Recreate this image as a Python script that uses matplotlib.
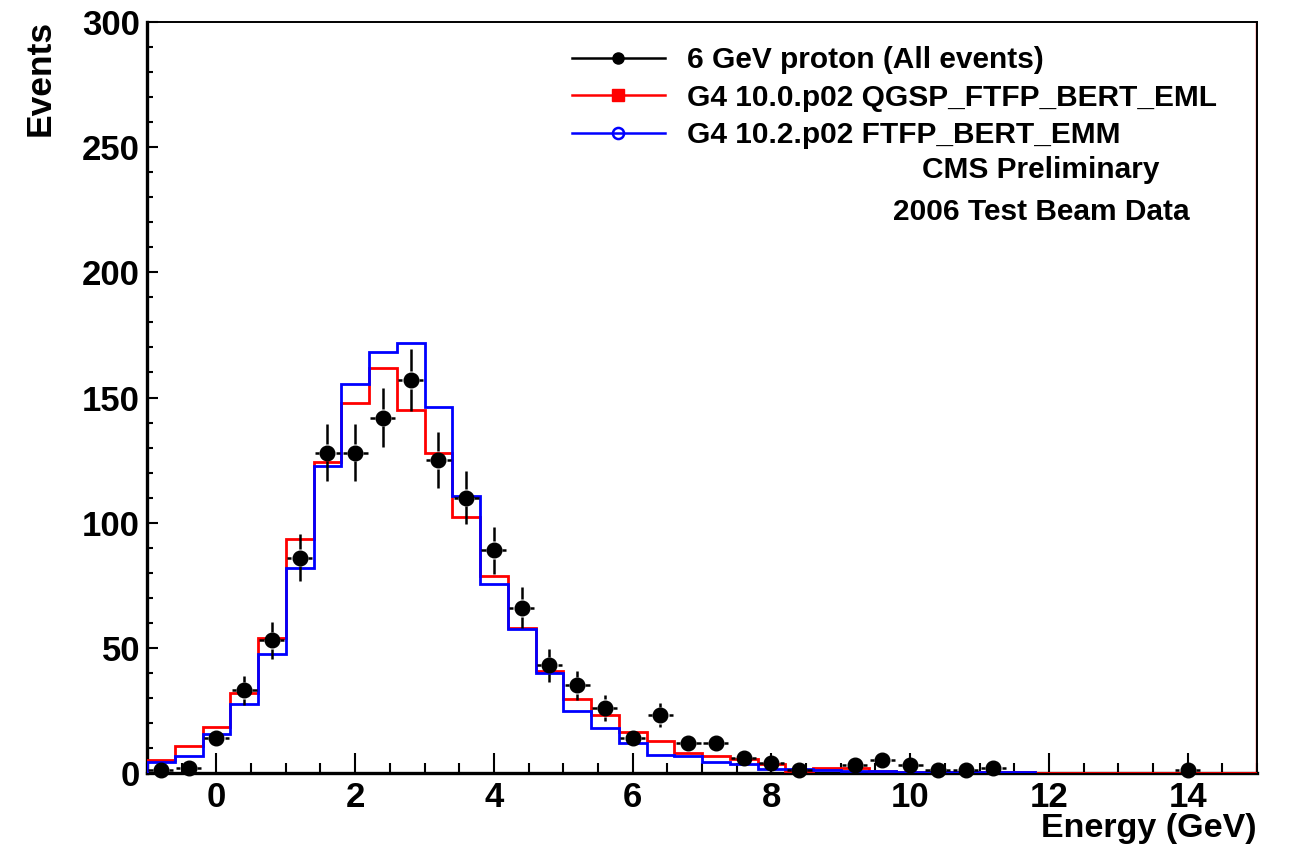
import numpy as np
import matplotlib
matplotlib.use("Agg")
import matplotlib.pyplot as plt
import matplotlib.transforms as mtransforms
from matplotlib.lines import Line2D
from matplotlib.ticker import MultipleLocator

plt.rcParams["font.family"] = ["Liberation Sans", "DejaVu Sans"]
plt.rcParams["font.weight"] = "bold"

# =========================
# Data
# =========================
bin_edges = np.round(np.arange(-1.0, 15.0001, 0.4), 2)          # 40 bins of 0.4 GeV
bin_centers = 0.5 * (bin_edges[:-1] + bin_edges[1:])

data_counts = [1, 2, 14, 33, 53, 86, 128, 128, 142, 157,
               125, 110, 89, 66, 43, 35, 26, 14, 23, 12,
               12, 6, 4, 1, 0, 3, 5, 3, 1, 1,
               2, 0, 0, 0, 0, 0, 0, 1, 0, 0]

g4_100_eml = [5.3, 10.8, 18.5, 31.8, 53.8, 93.4, 124.1, 147.7, 161.7, 145.0,
              128.0, 102.4, 78.8, 58.1, 40.8, 29.4, 23.2, 16.5, 12.8, 8.1,
              6.8, 5.5, 3.4, 0.7, 2.0, 2.0, 0.6, 0.5, 0.5, 0.3,
              0.3, 0.2, 0, 0, 0, 0, 0, 0, 0, 0]

# blue histogram stops at 11.8 GeV
g4_102_emm = [4.5, 6.7, 15.5, 27.4, 47.4, 81.8, 122.8, 155.4, 168.1, 171.9,
              146.1, 110.8, 75.4, 57.4, 39.8, 24.9, 17.9, 12.1, 7.2, 6.8,
              4.5, 3.6, 1.4, 1.4, 1.0, 0.8, 0.8, 0.5, 0.5, 0.5,
              0.5, 0.5]

labels = ["6 GeV proton (All events)",
          "G4 10.0.p02 QGSP_FTFP_BERT_EML",
          "G4 10.2.p02 FTFP_BERT_EMM"]

# =========================
# Figure
# =========================
fig = plt.figure(figsize=(12.9, 8.49), dpi=100)
ax = fig.add_axes([147 / 1290, 1 - 773 / 849, (1257 - 147) / 1290, (773 - 22) / 849])

# histograms
ax.stairs(g4_100_eml, bin_edges, color="red", lw=2.0, baseline=0, zorder=3)
ax.stairs(g4_102_emm, bin_edges[:len(g4_102_emm) + 1], color="blue", lw=2.0,
          baseline=0, zorder=4)

# red edge at the right of the frame
off = mtransforms.offset_copy(ax.transData, fig=fig, x=-1.2, y=0, units="dots")
ax.plot([15, 15], [0, 300], color="red", lw=1.0, transform=off, zorder=2,
        clip_on=False)

# data points with ROOT-like error bars (gap around the marker)
x = bin_centers
y = np.array(data_counts, dtype=float)
err = np.sqrt(y)
show = y > 0
xs, ys, es = x[show], y[show], err[show]

ex, gx = 0.18, 0.12      # half width of x error, gap around marker (GeV)
gy = 3.5                 # vertical gap around marker (events)

ax.hlines(ys, xs - ex, xs - gx, color="black", lw=1.8, zorder=5)
ax.hlines(ys, xs + gx, xs + ex, color="black", lw=1.8, zorder=5)
big = es > gy
ax.vlines(xs[big], ys[big] + gy, ys[big] + es[big], color="black", lw=1.8, zorder=5)
ax.vlines(xs[big], ys[big] - es[big], ys[big] - gy, color="black", lw=1.8, zorder=5)
ax.plot(xs, ys, "o", color="black", ms=10.5, zorder=6, clip_on=False)

# axes
ax.set_xlim(-1, 15)
ax.set_ylim(0, 300)
ax.xaxis.set_major_locator(MultipleLocator(2))
ax.xaxis.set_minor_locator(MultipleLocator(0.5))
ax.yaxis.set_major_locator(MultipleLocator(50))
ax.yaxis.set_minor_locator(MultipleLocator(10))

ax.tick_params(axis="x", which="major", direction="in", length=14.5, width=1.5,
               labelsize=25, pad=6)
ax.tick_params(axis="x", which="minor", direction="in", length=7.5, width=1.5)
ax.tick_params(axis="y", which="major", direction="in", length=8, width=1.5,
               labelsize=25, pad=5)
ax.tick_params(axis="y", which="minor", direction="in", length=4.3, width=1.5)
for lab in ax.get_xticklabels() + ax.get_yticklabels():
    lab.set_fontweight("bold")

ax.spines["left"].set_linewidth(2.4)
ax.spines["bottom"].set_linewidth(2.4)
ax.spines["top"].set_linewidth(1.4)
ax.spines["right"].set_linewidth(1.4)

fig.text(1257 / 1290, 1 - 828 / 849, "Energy (GeV)", ha="right", va="center",
         fontsize=24.5, fontweight="bold")
fig.text(40 / 1290, 1 - 20 / 849, "Events", rotation=90, ha="center", va="top",
         fontsize=25.5, fontweight="bold")

# legend
handles = [
    Line2D([], [], color="black", lw=1.8, marker="o", ms=8, mfc="black"),
    Line2D([], [], color="red", lw=1.8, marker="s", ms=8, mfc="red"),
    Line2D([], [], color="blue", lw=1.8, marker="o", ms=8, mfc="none", mew=1.8),
]
leg = ax.legend(handles, labels, loc="upper left",
                bbox_to_anchor=(572 / 1290, 1 - 46 / 849),
                bbox_transform=fig.transFigure, frameon=False,
                fontsize=21.5, handlelength=3.1, handletextpad=0.75,
                labelspacing=0.32, borderpad=0, borderaxespad=0)
for t in leg.get_texts():
    t.set_fontweight("bold")

fig.text(1041 / 1290, 1 - 170 / 849, "CMS Preliminary", ha="center", va="center",
         fontsize=21.5, fontweight="bold")
fig.text(1041 / 1290, 1 - 212 / 849, "2006 Test Beam Data", ha="center",
         va="center", fontsize=21.5, fontweight="bold")

fig.savefig("out.png", dpi=100)
